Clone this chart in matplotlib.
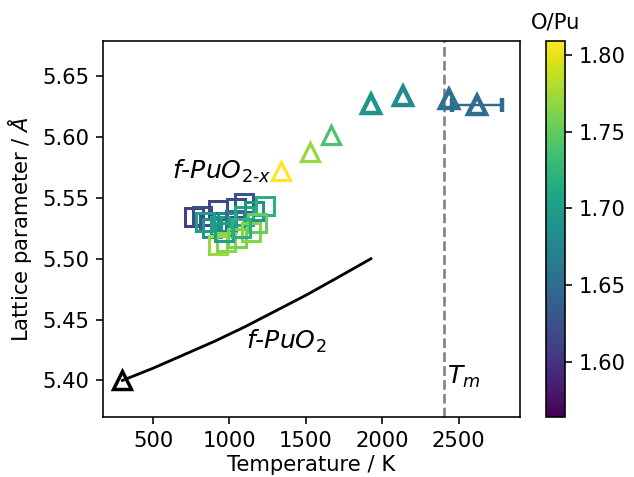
import numpy as np
import matplotlib
matplotlib.use("Agg")
import matplotlib.pyplot as plt
from matplotlib.colors import Normalize

plt.rcParams['mathtext.default'] = 'it'
plt.rcParams['font.size'] = 10.5

# reference fcc PuO2 lattice expansion
T_ref = [300, 500, 700, 900, 1100, 1300, 1500, 1700, 1925]
a_ref = [5.400, 5.410, 5.421, 5.432, 5.444, 5.457, 5.470, 5.484, 5.500]

# substoichiometric PuO2-x, low temperature (squares)
T_sq = [771, 823, 869, 922, 1046, 1098, 889, 935, 987, 1039, 1098, 1163, 1235,
        928, 980, 1052, 1144, 1183, 967, 1078, 843]
a_sq = [5.534, 5.535, 5.530, 5.540, 5.542, 5.546, 5.525, 5.527, 5.530, 5.532, 5.535,
        5.539, 5.543, 5.5115, 5.514, 5.517, 5.522, 5.529, 5.522, 5.525, 5.530]
o_sq = [1.61, 1.62, 1.63, 1.615, 1.62, 1.63, 1.69, 1.70, 1.68, 1.66, 1.71, 1.69, 1.72,
        1.77, 1.765, 1.76, 1.765, 1.75, 1.70, 1.72, 1.70]

# high temperature (triangles)
T_tri = [1340, 1525, 1662, 1925, 2135]
a_tri = [5.572, 5.588, 5.602, 5.627, 5.6335]
o_tri = [1.81, 1.77, 1.74, 1.69, 1.68]

# near the melting point, with temperature uncertainty
T_hi = [2435, 2620]
a_hi = [5.631, 5.626]
o_hi = [1.655, 1.65]
T_hi_err = [0, 165]

T_melt = 2404
o_min, o_max = 1.564, 1.809

cmap = plt.get_cmap('viridis')
norm = Normalize(vmin=o_min, vmax=o_max)

fig = plt.figure(figsize=(634/145, 477/145), dpi=145)
ax = fig.add_axes([0.163, 0.126, 0.657, 0.788])
cax = fig.add_axes([0.861, 0.126, 0.030, 0.788])

ax.plot(T_ref, a_ref, color='k', lw=1.4)
ax.plot(T_ref[0], a_ref[0], '^', ms=8.5, mfc='none', mec='k', mew=1.7)

for t, a, o in zip(T_sq, a_sq, o_sq):
    ax.plot(t, a, 's', ms=8.5, mfc='none', mec=cmap(norm(o)), mew=1.5)

for t, a, o in zip(T_tri, a_tri, o_tri):
    w = 1.6 if o > 1.72 else 2.2
    ax.plot(t, a, '^', ms=8.5, mfc='none', mec=cmap(norm(o)), mew=w)

for t, a, o, e in zip(T_hi, a_hi, o_hi, T_hi_err):
    c = cmap(norm(o))
    ax.errorbar(t, a, xerr=e if e else None, fmt='^', ms=8.5, mfc='none', mec=c,
                mew=2.2, ecolor=c, elinewidth=1.2, capsize=3.5, capthick=1.2)

ax.axvline(T_melt, color='gray', ls='--', lw=1.3)

ax.text(621, 5.5715, r'f-PuO$_{2\text{-}x}$', fontsize=12.5, va='center', style='italic')
ax.text(1111, 5.432, r'f-PuO$_2$', fontsize=12.5, va='center', style='italic')
ax.text(2420, 5.403, r'$T_m$', fontsize=12.5, va='center')

ax.set_xlim(175, 2900)
ax.set_ylim(5.370, 5.679)
ax.set_xticks([500, 1000, 1500, 2000, 2500])
ax.set_yticks([5.40, 5.45, 5.50, 5.55, 5.60, 5.65])
ax.set_xlabel('Temperature / K', labelpad=2)
ax.set_ylabel(r'Lattice parameter / $\AA$')

sm = plt.cm.ScalarMappable(norm=norm, cmap=cmap)
cb = fig.colorbar(sm, cax=cax)
cb.set_ticks([1.60, 1.65, 1.70, 1.75, 1.80])
cax.set_title('O/Pu', fontsize=10.5)

fig.savefig('out.png', dpi=145)
